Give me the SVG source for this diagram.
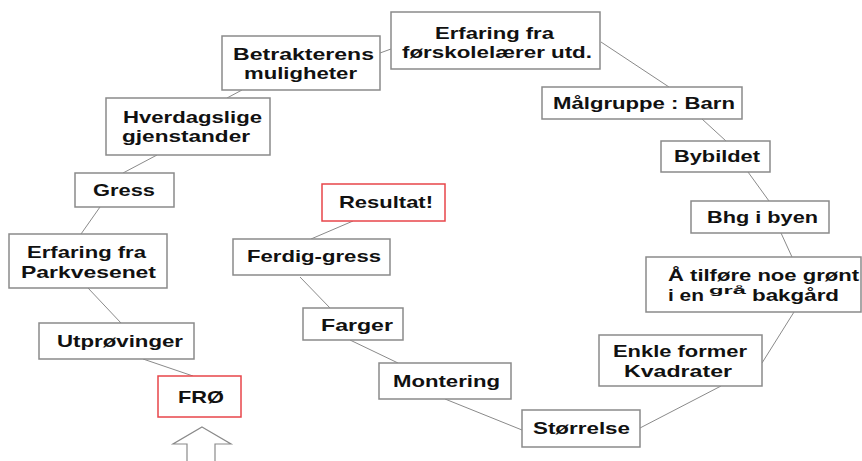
<svg xmlns="http://www.w3.org/2000/svg" width="862" height="461" viewBox="0 0 862 461">
<style>
.b{fill:#fff;stroke:#8a8a8a;stroke-width:1.5}
.r{fill:#fff;stroke:#e8454a;stroke-width:1.5}
.t{font-family:"Liberation Sans",Arial,sans-serif;font-weight:bold;font-size:17px;fill:#111}
.s{font-size:11px}
#connectors line{stroke:#8a8a8a;stroke-width:1}
</style>
<rect width="862" height="461" fill="#fff"/>
<g id="connectors">
<line x1="380" y1="53" x2="391" y2="49"/>
<line x1="242" y1="90" x2="227" y2="98"/>
<line x1="157" y1="155" x2="123" y2="173"/>
<line x1="100" y1="207" x2="81" y2="234"/>
<line x1="88" y1="288" x2="121" y2="323"/>
<line x1="143" y1="359" x2="193" y2="376"/>
<line x1="601" y1="42" x2="669" y2="87"/>
<line x1="702" y1="119" x2="726" y2="141"/>
<line x1="748" y1="172" x2="769" y2="201"/>
<line x1="781" y1="233" x2="792" y2="257"/>
<line x1="794" y1="312" x2="762" y2="363"/>
<line x1="721" y1="386" x2="640" y2="428"/>
<line x1="522" y1="430" x2="445" y2="399"/>
<line x1="398" y1="363" x2="350" y2="340"/>
<line x1="330" y1="308" x2="300" y2="277"/>
<line x1="311" y1="239" x2="353" y2="221"/>
<polygon points="202,427 231,444 215,444 215,462 187,462 187,444 173,444" fill="#fff" stroke="#8a8a8a" stroke-width="1.2"/>
</g>
<g id="n-erfaring-forskole">
<rect class="b" x="391" y="12" width="209" height="57"/>
<text class="t" x="435" y="39" textLength="119" lengthAdjust="spacingAndGlyphs">Erfaring fra</text>
<text class="t" x="402" y="58" textLength="190" lengthAdjust="spacingAndGlyphs">førskolelærer utd.</text>
</g>
<g id="n-betrakterens">
<rect class="b" x="222" y="36" width="158" height="54"/>
<text class="t" x="233" y="60" textLength="141" lengthAdjust="spacingAndGlyphs">Betrakterens</text>
<text class="t" x="244" y="79" textLength="113" lengthAdjust="spacingAndGlyphs">muligheter</text>
</g>
<g id="n-hverdagslige">
<rect class="b" x="106" y="98" width="164" height="57"/>
<text class="t" x="123" y="123" textLength="139" lengthAdjust="spacingAndGlyphs">Hverdagslige</text>
<text class="t" x="122" y="142" textLength="128" lengthAdjust="spacingAndGlyphs">gjenstander</text>
</g>
<g id="n-gress">
<rect class="b" x="75" y="173" width="99" height="34"/>
<text class="t" x="93" y="196" textLength="62" lengthAdjust="spacingAndGlyphs">Gress</text>
</g>
<g id="n-parkvesenet">
<rect class="b" x="9" y="234" width="158" height="54"/>
<text class="t" x="27" y="258" textLength="119" lengthAdjust="spacingAndGlyphs">Erfaring fra</text>
<text class="t" x="21" y="278" textLength="135" lengthAdjust="spacingAndGlyphs">Parkvesenet</text>
</g>
<g id="n-utprovinger">
<rect class="b" x="39" y="323" width="155" height="36"/>
<text class="t" x="57" y="347" textLength="126" lengthAdjust="spacingAndGlyphs">Utprøvinger</text>
</g>
<g id="n-fro">
<rect class="r" x="158" y="376" width="83" height="41"/>
<text class="t" x="178" y="403" textLength="46" lengthAdjust="spacingAndGlyphs">FRØ</text>
</g>
<g id="n-resultat">
<rect class="r" x="322" y="184" width="123" height="37"/>
<text class="t" x="339" y="208" textLength="94" lengthAdjust="spacingAndGlyphs">Resultat!</text>
</g>
<g id="n-ferdig-gress">
<rect class="b" x="233" y="239" width="157" height="36"/>
<text class="t" x="247" y="262" textLength="134" lengthAdjust="spacingAndGlyphs">Ferdig-gress</text>
</g>
<g id="n-farger">
<rect class="b" x="303" y="308" width="100" height="32"/>
<text class="t" x="321" y="331" textLength="72" lengthAdjust="spacingAndGlyphs">Farger</text>
</g>
<g id="n-montering">
<rect class="b" x="379" y="363" width="132" height="36"/>
<text class="t" x="393" y="387" textLength="107" lengthAdjust="spacingAndGlyphs">Montering</text>
</g>
<g id="n-storrelse">
<rect class="b" x="522" y="410" width="118" height="37"/>
<text class="t" x="533" y="434" textLength="97" lengthAdjust="spacingAndGlyphs">Størrelse</text>
</g>
<g id="n-enkle">
<rect class="b" x="599" y="335" width="163" height="51"/>
<text class="t" x="613" y="357" textLength="134" lengthAdjust="spacingAndGlyphs">Enkle former</text>
<text class="t" x="624" y="377" textLength="108" lengthAdjust="spacingAndGlyphs">Kvadrater</text>
</g>
<g id="n-tilfore">
<rect class="b" x="646" y="257" width="215" height="55"/>
<text class="t" x="668" y="281" textLength="191" lengthAdjust="spacingAndGlyphs">Å tilføre noe grønt</text>
<text class="t" x="668" y="301" textLength="36" lengthAdjust="spacingAndGlyphs">i en</text>
<text class="t s" x="709" y="294" textLength="37" lengthAdjust="spacingAndGlyphs">grå</text>
<text class="t" x="752" y="301" textLength="87" lengthAdjust="spacingAndGlyphs">bakgård</text>
</g>
<g id="n-malgruppe">
<rect class="b" x="542" y="87" width="200" height="32"/>
<text class="t" x="553" y="109" textLength="182" lengthAdjust="spacingAndGlyphs">Målgruppe : Barn</text>
</g>
<g id="n-bybildet">
<rect class="b" x="661" y="141" width="109" height="31"/>
<text class="t" x="674" y="162" textLength="86" lengthAdjust="spacingAndGlyphs">Bybildet</text>
</g>
<g id="n-bhg">
<rect class="b" x="691" y="201" width="138" height="32"/>
<text class="t" x="707" y="223" textLength="111" lengthAdjust="spacingAndGlyphs">Bhg i byen</text>
</g>
</svg>
